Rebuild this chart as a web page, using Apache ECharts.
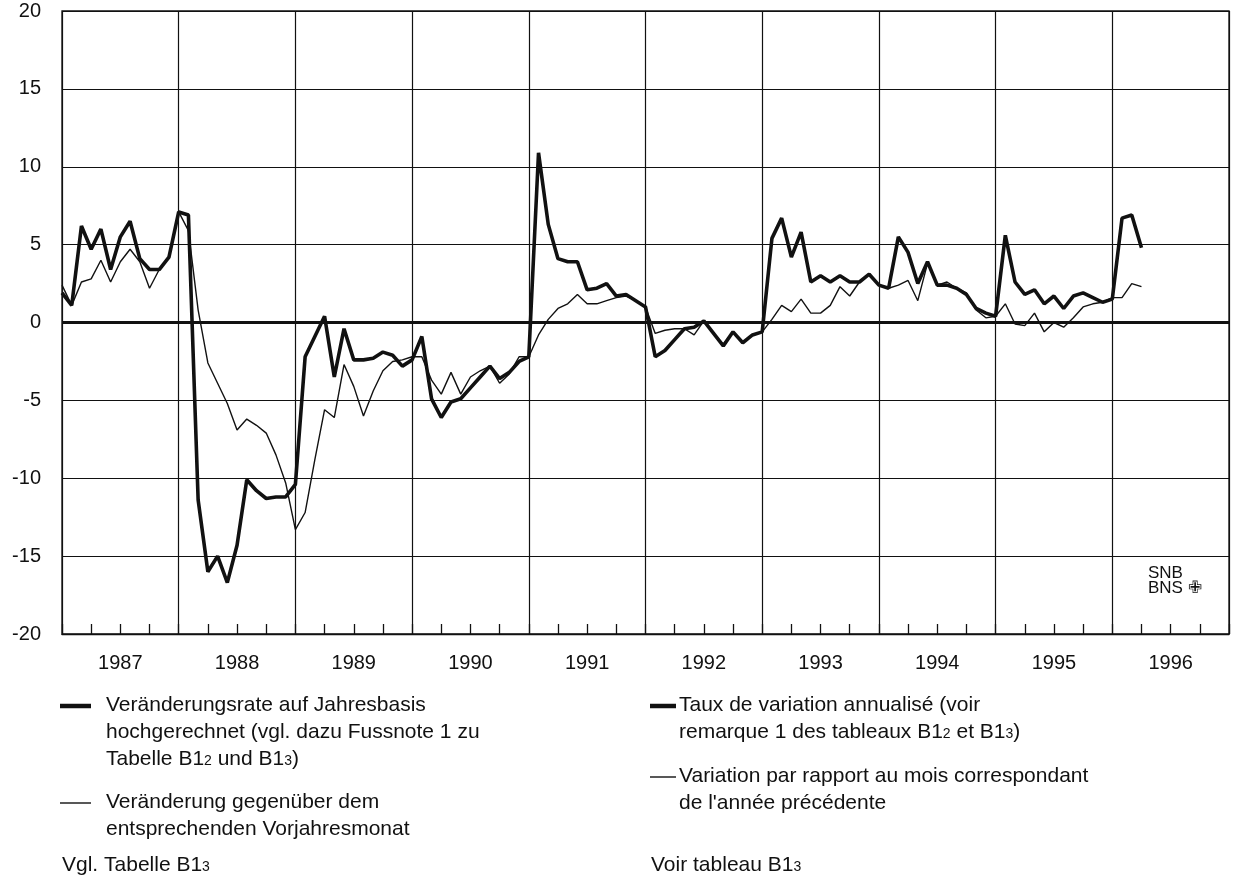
<!DOCTYPE html>
<html>
<head>
<meta charset="utf-8">
<script src="https://cdn.jsdelivr.net/npm/echarts@6/dist/echarts.min.js"></script>
<style>
  html, body { margin: 0; padding: 0; background: #fff; }
  #chart { width: 1238px; height: 879px; }
</style>
</head>
<body>
<div id="chart"></div>
<script>
// monthly values, starting January 1987
const yearLabels = ['1987', '1988', '1989', '1990', '1991', '1992', '1993', '1994', '1995', '1996']
const yTicks = [-20, -15, -10, -5, 0, 5, 10, 15, 20]

// Veränderungsrate auf Jahresbasis hochgerechnet (thick line)
const annualized = [
  1.9, 1.1, 6.2, 4.7, 6.0, 3.4, 5.5, 6.5, 4.1, 3.4, 3.4, 4.2,
  7.1, 6.9, -11.4, -16.0, -15.0, -16.7, -14.3, -10.1, -10.8, -11.3, -11.2, -11.2,
  -10.4, -2.2, -0.9, 0.4, -3.5, -0.4, -2.4, -2.4, -2.3, -1.9, -2.1, -2.8,
  -2.4, -0.9, -4.9, -6.1, -5.1, -4.9, -4.2, -3.5, -2.8, -3.6, -3.2, -2.5,
  -2.2, 10.9, 6.3, 4.1, 3.9, 3.9, 2.1, 2.2, 2.5, 1.7, 1.8, 1.4,
  1.0, -2.2, -1.8, -1.1, -0.4, -0.3, 0.1, -0.7, -1.5, -0.6, -1.3, -0.8,
  -0.6, 5.4, 6.7, 4.2, 5.8, 2.6, 3.0, 2.6, 3.0, 2.6, 2.6, 3.1,
  2.4, 2.2, 5.5, 4.5, 2.5, 3.9, 2.4, 2.4, 2.2, 1.8, 0.9, 0.6,
  0.4, 5.6, 2.6, 1.8, 2.1, 1.2, 1.7, 0.9, 1.7, 1.9, 1.6, 1.3,
  1.5, 6.7, 6.9, 4.8
]

// Veränderung gegenüber dem entsprechenden Vorjahresmonat (thin line)
const yearOnYear = [
  2.4, 1.1, 2.6, 2.8, 4.0, 2.6, 3.9, 4.7, 3.9, 2.2, 3.4, 4.2,
  7.1, 5.9, 0.8, -2.6, -3.9, -5.2, -6.9, -6.2, -6.6, -7.1, -8.5, -10.3,
  -13.3, -12.2, -8.8, -5.6, -6.1, -2.7, -4.1, -6.0, -4.4, -3.1, -2.5, -2.4,
  -2.2, -2.2, -3.7, -4.6, -3.2, -4.6, -3.5, -3.1, -2.8, -3.9, -3.3, -2.2,
  -2.2, -0.8, 0.2, 0.9, 1.2, 1.8, 1.2, 1.2, 1.4, 1.6, 1.7, 1.4,
  1.0, -0.7, -0.5, -0.4, -0.4, -0.8, 0.1, -0.7, -1.4, -0.6, -1.3, -0.8,
  -0.6, 0.2, 1.1, 0.7, 1.5, 0.6, 0.6, 1.1, 2.3, 1.7, 2.6, 3.1,
  2.4, 2.2, 2.4, 2.7, 1.4, 3.8, 2.4, 2.6, 2.2, 1.9, 0.8, 0.3,
  0.4, 1.2, -0.1, -0.2, 0.6, -0.6, 0.0, -0.3, 0.3, 1.0, 1.2, 1.3,
  1.6, 1.6, 2.5, 2.3
]

const font = '"Liberation Sans", Arial, sans-serif'
const ink = '#111'
const sub = { s: { fontSize: 14, fontFamily: font, fill: ink, verticalAlign: 'middle', padding: [3, 0, 0, 0] } }

const toPoints = arr => arr.map((v, i) => [i, v])

const legendText = (x, y, text) => ({
    type: 'text',
    style: { x: x, y: y, text: text, font: '21px ' + font, fill: ink, lineHeight: 27, rich: sub }
})
const legendLine = (x1, x2, y, w) => ({
    type: 'line',
    shape: { x1: x1, y1: y, x2: x2, y2: y },
    style: { stroke: ink, lineWidth: w }
})

const chart = echarts.init(document.getElementById('chart'))
const option = {
    backgroundColor: '#fff',
    animation: false,
    grid: {
        left: 62, right: 9, top: 11, bottom: 245,
        show: true, borderColor: ink, borderWidth: 1.3, backgroundColor: 'transparent'
    },
    xAxis: [{
        type: 'value', min: 0, max: yearLabels.length * 12, interval: 12,
        axisLine: { show: true, onZero: false, lineStyle: { color: ink, width: 1.3 } },
        axisTick: { show: true, inside: true, length: 10, lineStyle: { color: ink, width: 1.3 } },
        minorTick: { show: true, splitNumber: 4, length: 10, lineStyle: { color: ink, width: 1.3 } },
        axisLabel: { show: false },
        splitLine: { show: true, lineStyle: { color: ink, width: 1.2 } }
    }, {
        type: 'value', min: 0, max: yearLabels.length * 12, interval: 6, position: 'bottom',
        axisLine: { show: false, onZero: false }, axisTick: { show: false }, splitLine: { show: false },
        axisLabel: {
            show: true, margin: 19, color: ink, fontSize: 20, fontFamily: font,
            formatter: v => (v % 12 === 6 ? yearLabels[(v - 6) / 12] : '')
        }
    }],
    yAxis: {
        type: 'value', min: yTicks[0], max: yTicks[yTicks.length - 1], interval: 5,
        axisLine: { show: false }, axisTick: { show: false },
        axisLabel: { margin: 21, color: ink, fontSize: 20, fontFamily: font },
        splitLine: { show: true, lineStyle: { color: ink, width: 1.2 } }
    },
    series: [{
        name: 'Veränderung gegenüber dem entsprechenden Vorjahresmonat',
        type: 'line', xAxisIndex: 0, data: toPoints(yearOnYear),
        showSymbol: false, lineStyle: { color: ink, width: 1.4 }, z: 3
    }, {
        name: 'Veränderungsrate auf Jahresbasis hochgerechnet',
        type: 'line', xAxisIndex: 0, data: toPoints(annualized),
        showSymbol: false, lineStyle: { color: ink, width: 3.6 }, z: 4,
        markLine: {
            silent: true, symbol: 'none', label: { show: false },
            lineStyle: { color: ink, width: 3, type: 'solid' },
            data: [{ yAxis: 0 }]
        }
    }],
    graphic: [
        legendLine(60, 91, 706, 4.5),
        legendText(106, 692, 'Veränderungsrate auf Jahresbasis\nhochgerechnet (vgl. dazu Fussnote 1 zu\nTabelle B1{s|2} und B1{s|3})'),
        legendLine(60, 91, 803, 1.4),
        legendText(106, 789, 'Veränderung gegenüber dem\nentsprechenden Vorjahresmonat'),
        legendText(62, 852, 'Vgl. Tabelle B1{s|3}'),
        legendLine(650, 676, 706, 4.5),
        legendText(679, 692, 'Taux de variation annualisé (voir\nremarque 1 des tableaux B1{s|2} et B1{s|3})'),
        legendLine(650, 676, 777, 1.4),
        legendText(679, 763, 'Variation par rapport au mois correspondant\nde l\'année précédente'),
        legendText(651, 852, 'Voir tableau B1{s|3}'),
        {
            type: 'text',
            style: { x: 1148, y: 566, text: 'SNB\nBNS ✙', font: '17px ' + font, fill: ink, lineHeight: 15 }
        }
    ]
}
chart.setOption(option)
</script>
</body>
</html>
